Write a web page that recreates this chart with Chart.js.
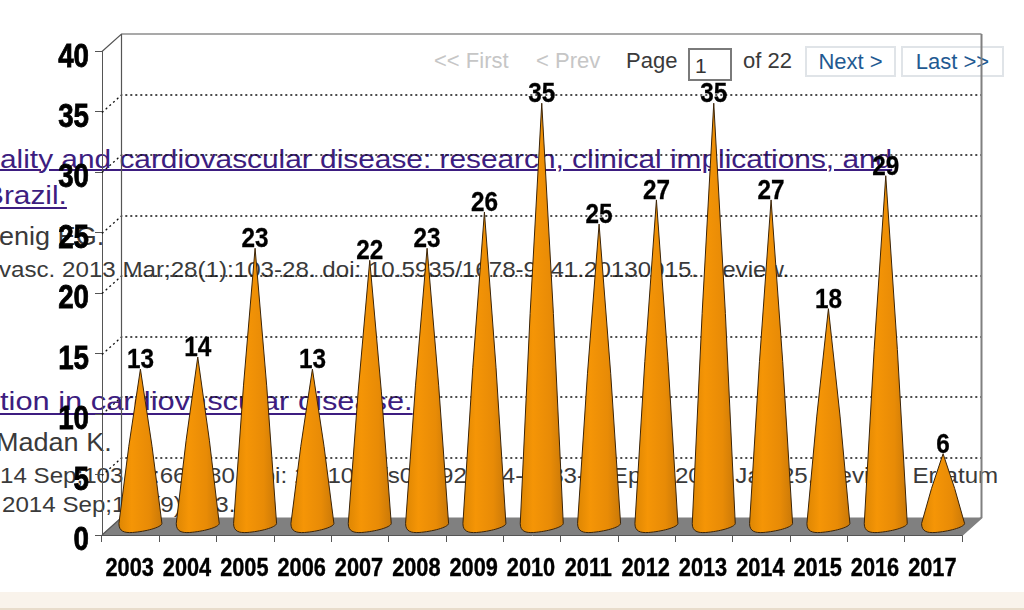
<!DOCTYPE html>
<html>
<head>
<meta charset="utf-8">
<title>Publications per year</title>
<script src="https://cdn.jsdelivr.net/npm/chart.js@4/dist/chart.umd.js"></script>
<style>
  html, body { margin: 0; padding: 0; background: #fff; overflow: hidden; }
  #page { position: relative; width: 1024px; height: 610px; overflow: hidden; font-family: "Liberation Sans", Arial, sans-serif; }
  #chart { position: absolute; left: 0; top: 0; z-index: 2; }
  .t { position: absolute; white-space: nowrap; line-height: 1; color: #3a3a3a; transform-origin: left top; }
  .link { color: #3d1d80; font-size: 25.5px; text-decoration: underline; text-underline-offset: 3px; text-decoration-thickness: 2px; }
  .meta { font-size: 22px; transform: scaleX(1.097); }
  .name { font-size: 25.5px; transform: scaleX(1.06); }
  .pg { font-size: 22px; }
  .off { color: #c6c6c6; }
  .btn { position: absolute; border: 2px solid #e0e4e8; color: #1f5a92; font-size: 22px; line-height: 27px; text-align: center; height: 27px; box-sizing: content-box; }
  #pagebox { position: absolute; left: 688px; top: 48px; width: 40px; height: 29px; border: 2px solid #7a7a7a; font-size: 21px; line-height: 32px; color: #333; text-indent: 5px; }
  #band { position: absolute; left: 0; top: 592px; width: 1024px; height: 16px; background: #f9f3eb; border-bottom: 2px solid #e8dccb; }
</style>
</head>
<body>
<div id="page">
  <div class="t pg off" style="left:434px;top:50px">&lt;&lt; First</div>
  <div class="t pg off" style="left:536px;top:50px">&lt; Prev</div>
  <div class="t pg" style="left:626px;top:50px">Page</div>
  <div id="pagebox">1</div>
  <div class="t pg" style="left:743px;top:50px">of 22</div>
  <div class="btn" style="left:805px;top:46px;width:87px">Next &gt;</div>
  <div class="btn" style="left:901px;top:46px;width:99px">Last &gt;&gt;</div>

  <div class="t link" style="left:0;top:147px;transform:scaleX(1.17);text-underline-offset:1px">ality and cardiovascular disease: research, clinical implications, and</div>
  <div class="t link" style="left:-16px;top:183px;transform:scaleX(1.17)">Brazil.</div>
  <div class="t name" style="left:-1px;top:224px">enig EG.</div>
  <div class="t meta" style="left:-1px;top:259px">vasc. 2013 Mar;28(1):103-28. doi: 10.5935/1678-9741.20130015. Review.</div>

  <div class="t link" style="left:0;top:389px;transform:scaleX(1.208)">tion in cardiovascular disease.</div>
  <div class="t name" style="left:-4px;top:430px">Madan K.</div>
  <div class="t meta" style="left:0;top:465px">14 Sep;103(6):667-80. doi: 10.1007/s00392-014-0683-4. Epub 2014 Jan 25. Review. Erratum</div>
  <div class="t meta" style="left:2px;top:494px">2014 Sep;103(9):683.</div>

  <div id="band"></div>
  <canvas id="chart" width="1024" height="610"></canvas>
</div>

<script>
const years = ['2003', '2004', '2005', '2006', '2007', '2008', '2009', '2010', '2011', '2012', '2013', '2014', '2015', '2016', '2017'];
const counts = [13, 14, 23, 13, 22, 23, 26, 35, 25, 27, 35, 27, 18, 29, 6];
const yMax = 40;
const yStep = 5;

const FONT = '"Liberation Sans", sans-serif';
const DEPTH_X = 19.5;
const DEPTH_Y = 17.5;

// no narrow bold face installed, so squeeze the text on the canvas
function narrowText(ctx, text, x, y, size, squeeze, align, heavy) {
  ctx.save();
  ctx.translate(x, y);
  ctx.scale(squeeze, 1);
  ctx.font = 'bold ' + size + 'px ' + FONT;
  ctx.textAlign = align;
  ctx.textBaseline = 'alphabetic';
  ctx.fillStyle = '#000';
  ctx.fillText(text, 0, 0);
  if (heavy) {
    ctx.strokeStyle = '#000';
    ctx.lineWidth = heavy;
    ctx.strokeText(text, 0, 0);
  }
  ctx.restore();
}

// ── Fake 3D box: floor, back wall, dotted grid ──
const boxPlugin = {
  id: 'box',
  beforeDatasetsDraw(chart) {
    const { ctx, chartArea: a, scales: { y } } = chart;
    ctx.save();

    ctx.fillStyle = '#808080';
    ctx.beginPath();
    ctx.moveTo(a.left, a.bottom);
    ctx.lineTo(a.left + DEPTH_X, a.bottom - DEPTH_Y);
    ctx.lineTo(a.right + DEPTH_X, a.bottom - DEPTH_Y);
    ctx.lineTo(a.right, a.bottom);
    ctx.closePath();
    ctx.fill();

    // dotted lines on side and back wall
    ctx.strokeStyle = '#111';
    ctx.lineWidth = 1.3;
    ctx.setLineDash([2, 3]);
    for (let v = yStep; v < yMax; v += yStep) {
      const py = Math.round(y.getPixelForValue(v)) + 0.5;
      ctx.beginPath();
      ctx.moveTo(a.left, py);
      ctx.lineTo(a.left + DEPTH_X, py - DEPTH_Y);
      ctx.lineTo(a.right + DEPTH_X, py - DEPTH_Y);
      ctx.stroke();
    }
    ctx.setLineDash([]);

    // solid edges
    ctx.strokeStyle = '#555';
    ctx.lineWidth = 1.2;
    ctx.beginPath();
    ctx.moveTo(a.left, a.top);
    ctx.lineTo(a.left + DEPTH_X, a.top - DEPTH_Y);
    ctx.lineTo(a.right + DEPTH_X, a.top - DEPTH_Y);
    ctx.moveTo(a.left + DEPTH_X, a.top - DEPTH_Y);
    ctx.lineTo(a.left + DEPTH_X, a.bottom - DEPTH_Y);
    ctx.moveTo(a.left, a.bottom);
    ctx.lineTo(a.left + DEPTH_X, a.bottom - DEPTH_Y);
    ctx.stroke();

    ctx.strokeStyle = '#808080';
    ctx.lineWidth = 2;
    ctx.beginPath();
    ctx.moveTo(a.right + DEPTH_X, a.top - DEPTH_Y);
    ctx.lineTo(a.right + DEPTH_X, a.bottom - DEPTH_Y);
    ctx.lineTo(a.right, a.bottom);
    ctx.stroke();
    ctx.restore();
  }
};

// ── Cones + value labels, placed from the bar elements ──
const conePlugin = {
  id: 'cones',
  afterDatasetsDraw(chart) {
    const { ctx } = chart;
    const bars = chart.getDatasetMeta(0).data;
    ctx.save();
    bars.forEach((bar, i) => {
      const cx = bar.x + DEPTH_X / 2;
      const tip = bar.y - DEPTH_Y / 2;
      const base = bar.base;
      const midY = (tip + base - 11) / 2;
      const grad = ctx.createLinearGradient(cx - 22, 0, cx + 22, 0);
      grad.addColorStop(0, '#dd8603');
      grad.addColorStop(0.3, '#f59506');
      grad.addColorStop(0.7, '#e88b06');
      grad.addColorStop(1, '#c97808');
      ctx.fillStyle = grad;
      ctx.strokeStyle = '#3b2408';
      ctx.lineWidth = 1;
      ctx.beginPath();
      ctx.moveTo(cx, tip);
      ctx.quadraticCurveTo(cx + 12.5, midY, cx + 21.5, base - 11);
      ctx.bezierCurveTo(cx + 21, base - 7, cx + 5, base - 3, cx - 8, base - 2);
      ctx.bezierCurveTo(cx - 16, base - 1.5, cx - 21.5, base - 3, cx - 21.5, base - 11);
      ctx.quadraticCurveTo(cx - 12.5, midY, cx, tip);
      ctx.closePath();
      ctx.fill();
      ctx.stroke();

      narrowText(ctx, String(counts[i]), cx, tip - 1, 27, 0.9, 'center', 0.3);
    });
    ctx.restore();
  },
  // axis labels
  afterDraw(chart) {
    const { ctx, scales: { x, y } } = chart;
    y.ticks.forEach(t => {
      narrowText(ctx, String(t.value), 89, y.getPixelForValue(t.value) + 15, 33, 0.84, 'right', 0.8);
    });
    years.forEach((label, i) => {
      narrowText(ctx, label, x.getPixelForValue(i) - 1, 576, 25, 0.87, 'center', 0.4);
    });
  }
};

new Chart(document.getElementById('chart'), {
  type: 'bar',
  data: {
    labels: years,
    datasets: [{ data: counts, backgroundColor: 'rgba(0,0,0,0)', borderWidth: 0 }]
  },
  options: {
    responsive: false,
    animation: false,
    layout: { padding: { top: 51.5, right: 62, left: 0, bottom: 0 } },
    plugins: { legend: { display: false }, title: { display: false }, tooltip: { enabled: false } },
    scales: {
      x: {
        afterFit(scale) { scale.height = 75; },
        border: { color: '#555', width: 1 },
        grid: { drawOnChartArea: false, color: '#555', tickLength: 7, offset: true },
        ticks: { display: false, autoSkip: false }
      },
      y: {
        min: 0,
        max: yMax,
        afterFit(scale) { scale.width = 102; },
        border: { color: '#555', width: 1 },
        grid: { drawOnChartArea: false, color: '#555', tickLength: 7 },
        ticks: { display: false, stepSize: yStep }
      }
    }
  },
  plugins: [boxPlugin, conePlugin]
});
</script>
</body>
</html>
